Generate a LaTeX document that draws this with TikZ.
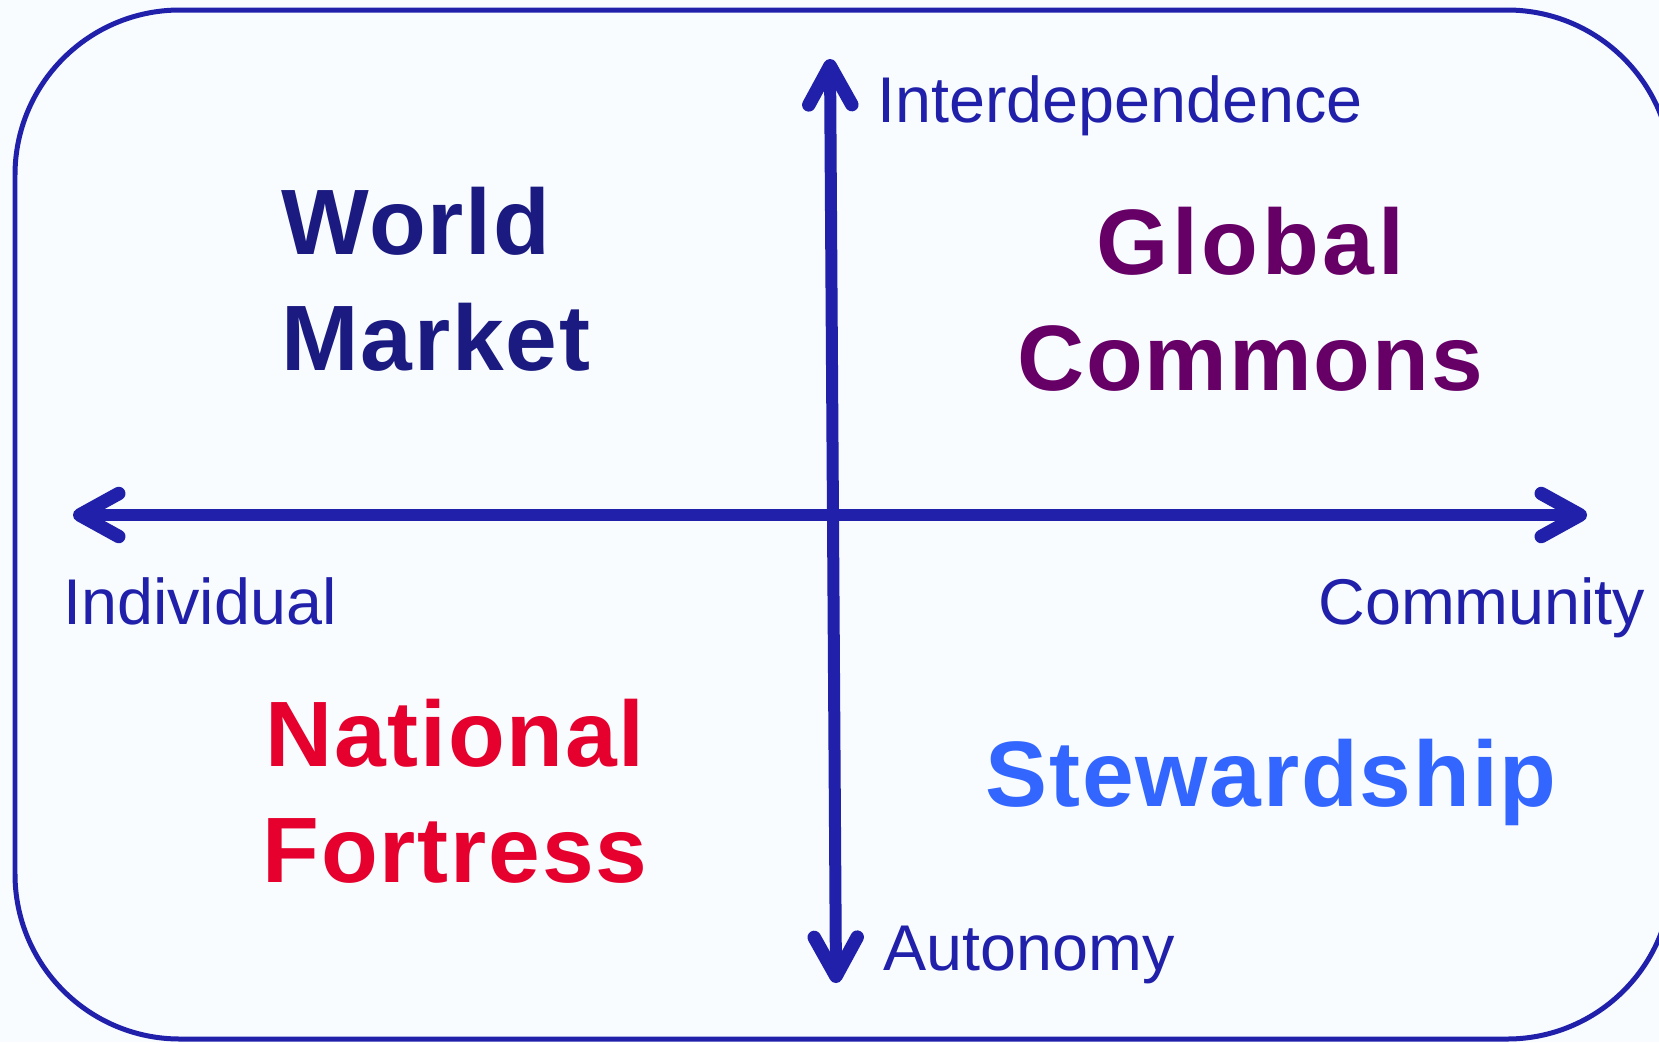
\documentclass[tikz,border=0pt]{standalone}
\usepackage{fontspec}
\setmainfont{Liberation Sans}
\usetikzlibrary{calc}
\usetikzlibrary{arrows.meta}
\definecolor{axisblue}{RGB}{32,32,170}
\definecolor{paper}{RGB}{248,252,255}
\definecolor{worldcol}{RGB}{26,26,128}
\definecolor{globalcol}{RGB}{102,0,102}
\definecolor{nationcol}{RGB}{230,0,45}
\definecolor{stewcol}{RGB}{51,102,255}
\tikzstyle{axislabel} = [anchor=base west, inner sep=0pt, text=axisblue, font=\fontsize{36.8pt}{44pt}\selectfont]
\tikzstyle{scenario} = [inner sep=0pt, font=\fontsize{52.9pt}{65.5pt}\selectfont\bfseries\addfontfeature{LetterSpace=2}]
\tikzstyle{axis} = [draw=axisblue, line width=0.24cm, line cap=round,
  arrows={Straight Barb[length=0.78cm, width=0.86cm, round, line width=0.27cm]-Straight Barb[length=0.78cm, width=0.86cm, round, line width=0.27cm]}]

\begin{document}
\begin{tikzpicture}[x=0.02cm, y=-0.02cm]
    \useasboundingbox (0,0) rectangle (1659,1042);
    \clip (0,0) rectangle (1659,1042);
    \fill[paper] (0,0) rectangle (1659,1042);
    \draw[axisblue, line width=0.1cm, rounded corners=3.3cm] (15,10) rectangle (1672,1039);

    \coordinate (ax_left) at (73,515);
    \coordinate (ax_right) at (1587,515);
    \coordinate (ax_top) at (830,59);
    \coordinate (ax_bottom) at (836,983);
    \draw[axis] (ax_left) -- (ax_right);
    \draw[axis] (ax_top) -- (ax_bottom);

    \node[axislabel] (lbl_inter) at (877,122) {Interdependence};
    \node[axislabel] (lbl_indiv) at (63,624) {Individual};
    \node[axislabel] (lbl_comm) at (1318,624) {Community};
    \node[axislabel] (lbl_auto) at (883,970) {Autonomy};

    % base anchor of a two-line node sits on its last line
    \node[scenario, text=worldcol, align=left, anchor=base west] (world) at (281,370) {World\\Market};
    \node[scenario, text=globalcol, align=center, anchor=base] (global) at (1250,390)
{\addfontfeature{LetterSpace=4}Global\\Commons};
    \node[scenario, text=nationcol, align=center, anchor=base] (nation) at (455,882) {National\\Fortress};
    \node[scenario, text=stewcol, anchor=base] (stew) at (1271,806) {Stewardship};
\end{tikzpicture}
\end{document}
